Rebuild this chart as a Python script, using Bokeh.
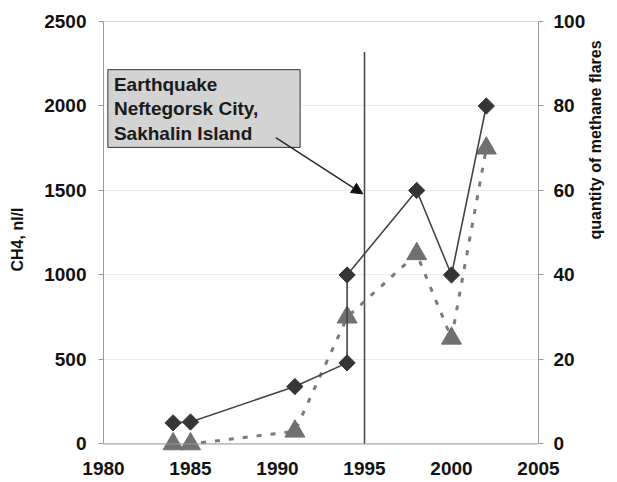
from bokeh.plotting import figure
from bokeh.models import Range1d, LinearAxis, FixedTicker, Arrow, NormalHead, Span
from bokeh.core.properties import value
from bokeh.embed import file_html
from bokeh.resources import INLINE
import math

# --- data ---
years_ch4 = [1984, 1985, 1991, 1994, 1994, 1998, 2000, 2002]
ch4 = [125, 130, 340, 480, 1000, 1500, 1000, 2000]
years_flares = [1984, 1985, 1991, 1994, 1998, 2000, 2002]
flares = [0, 0, 3, 30, 45, 25, 70]
x_ticks = [1980, 1985, 1990, 1995, 2000, 2005]
left_ticks = [0, 500, 1000, 1500, 2000, 2500]
right_ticks = [0, 20, 40, 60, 80, 100]
quake_year = 1995
quake_line_top = 2320
note_lines = ["Earthquake", "Neftegorsk City,", "Sakhalin Island"]
note_box = dict(left=1980.25, right=1991.3, top=2215, bottom=1755)
note_text_x = 1980.6
note_text_y = [2130, 1985, 1835]
arrow_from = (1989.9, 1813)
arrow_to = (1994.9, 1480)

FONT = "Liberation Sans"
ch4_lo, ch4_hi = 0, 2500
fl_lo, fl_hi = 0, 100
pad = 80  # room below zero (in CH4 units) so markers at zero are not clipped
ratio = (fl_hi - fl_lo) / (ch4_hi - ch4_lo)

p = figure(width=617, height=482, output_backend="svg", toolbar_location=None,
           x_range=Range1d(1980, 2005), y_range=Range1d(ch4_lo - pad, ch4_hi),
           min_border_left=103, min_border_right=79, min_border_top=21, min_border_bottom=25)
p.extra_y_ranges = {"flares": Range1d(fl_lo - pad * ratio, fl_hi)}

p.outline_line_color = None
p.xgrid.grid_line_color = None
p.ygrid.grid_line_color = "#ececec"
p.ygrid.ticker = FixedTicker(ticks=left_ticks)

def style_axis(ax, ticks):
    ax.ticker = FixedTicker(ticks=ticks)
    ax.axis_line_color = "#999999"
    ax.major_tick_line_color = "#999999"
    ax.major_tick_out = 5
    ax.major_tick_in = 0
    ax.minor_tick_line_color = None
    ax.major_label_text_font = FONT
    ax.major_label_text_font_style = "bold"
    ax.major_label_text_font_size = "19px"
    ax.major_label_text_color = "#111111"
    ax.axis_label_text_font = FONT
    ax.axis_label_text_font_style = "bold"
    ax.axis_label_text_font_size = "16px"
    ax.axis_label_text_color = "#111111"

xa = p.xaxis[0]
style_axis(xa, x_ticks)
xa.axis_line_color = None
xa.major_tick_line_color = None
xa.major_tick_out = 0
xa.major_label_standoff = 4

ya = p.yaxis[0]
style_axis(ya, left_ticks)
ya.bounds = (ch4_lo, ch4_hi)
ya.axis_label = "CH4, nl/l"
ya.major_label_standoff = 12
ya.axis_label_standoff = 15

ra = LinearAxis(y_range_name="flares")
style_axis(ra, right_ticks)
ra.bounds = (fl_lo, fl_hi)
ra.axis_label = "quantity of methane flares"
ra.major_label_standoff = 10
ra.axis_label_standoff = 7
ra.axis_label_orientation = math.pi / 2
ra.axis_label_text_align = "center"
p.add_layout(ra, "right")

# x axis line at zero and top border
p.add_layout(Span(location=ch4_lo, dimension="width", line_color="#999999", line_width=1))
p.add_layout(Span(location=ch4_hi, dimension="width", line_color="#b0b0b0", line_width=1))

# annotation box
p.quad(left=[note_box["left"]], right=[note_box["right"]], top=[note_box["top"]],
       bottom=[note_box["bottom"]], fill_color="#d3d3d3", line_color="#333333", line_width=1)
p.text(x=[note_text_x] * len(note_lines), y=note_text_y, text=note_lines,
       text_font=value(FONT), text_font_style="bold", text_font_size="19px",
       text_color="#1a1a1a", text_baseline="middle", text_align="left")
p.add_layout(Arrow(end=NormalHead(size=11, fill_color="#111111", line_color="#111111"),
                   x_start=arrow_from[0], y_start=arrow_from[1],
                   x_end=arrow_to[0], y_end=arrow_to[1],
                   line_color="#222222", line_width=1.3))

# earthquake line
p.segment(x0=[quake_year], y0=[ch4_lo], x1=[quake_year], y1=[quake_line_top],
          line_color="#444444", line_width=1.5)

# flares (right axis)
p.line(years_flares, flares, y_range_name="flares", line_color="#7a7a7a",
       line_width=3, line_dash="5 9")
p.scatter(years_flares, flares, y_range_name="flares", marker="triangle", size=20,
          fill_color="#707070", line_color="#707070")

# CH4 (left axis)
p.line(years_ch4, ch4, line_color="#444444", line_width=1.6)
p.scatter(years_ch4, ch4, marker="square", angle=math.pi / 4, size=11.5,
          fill_color="#353535", line_color="#353535")

open("out.html", "w").write(file_html(p, INLINE))
